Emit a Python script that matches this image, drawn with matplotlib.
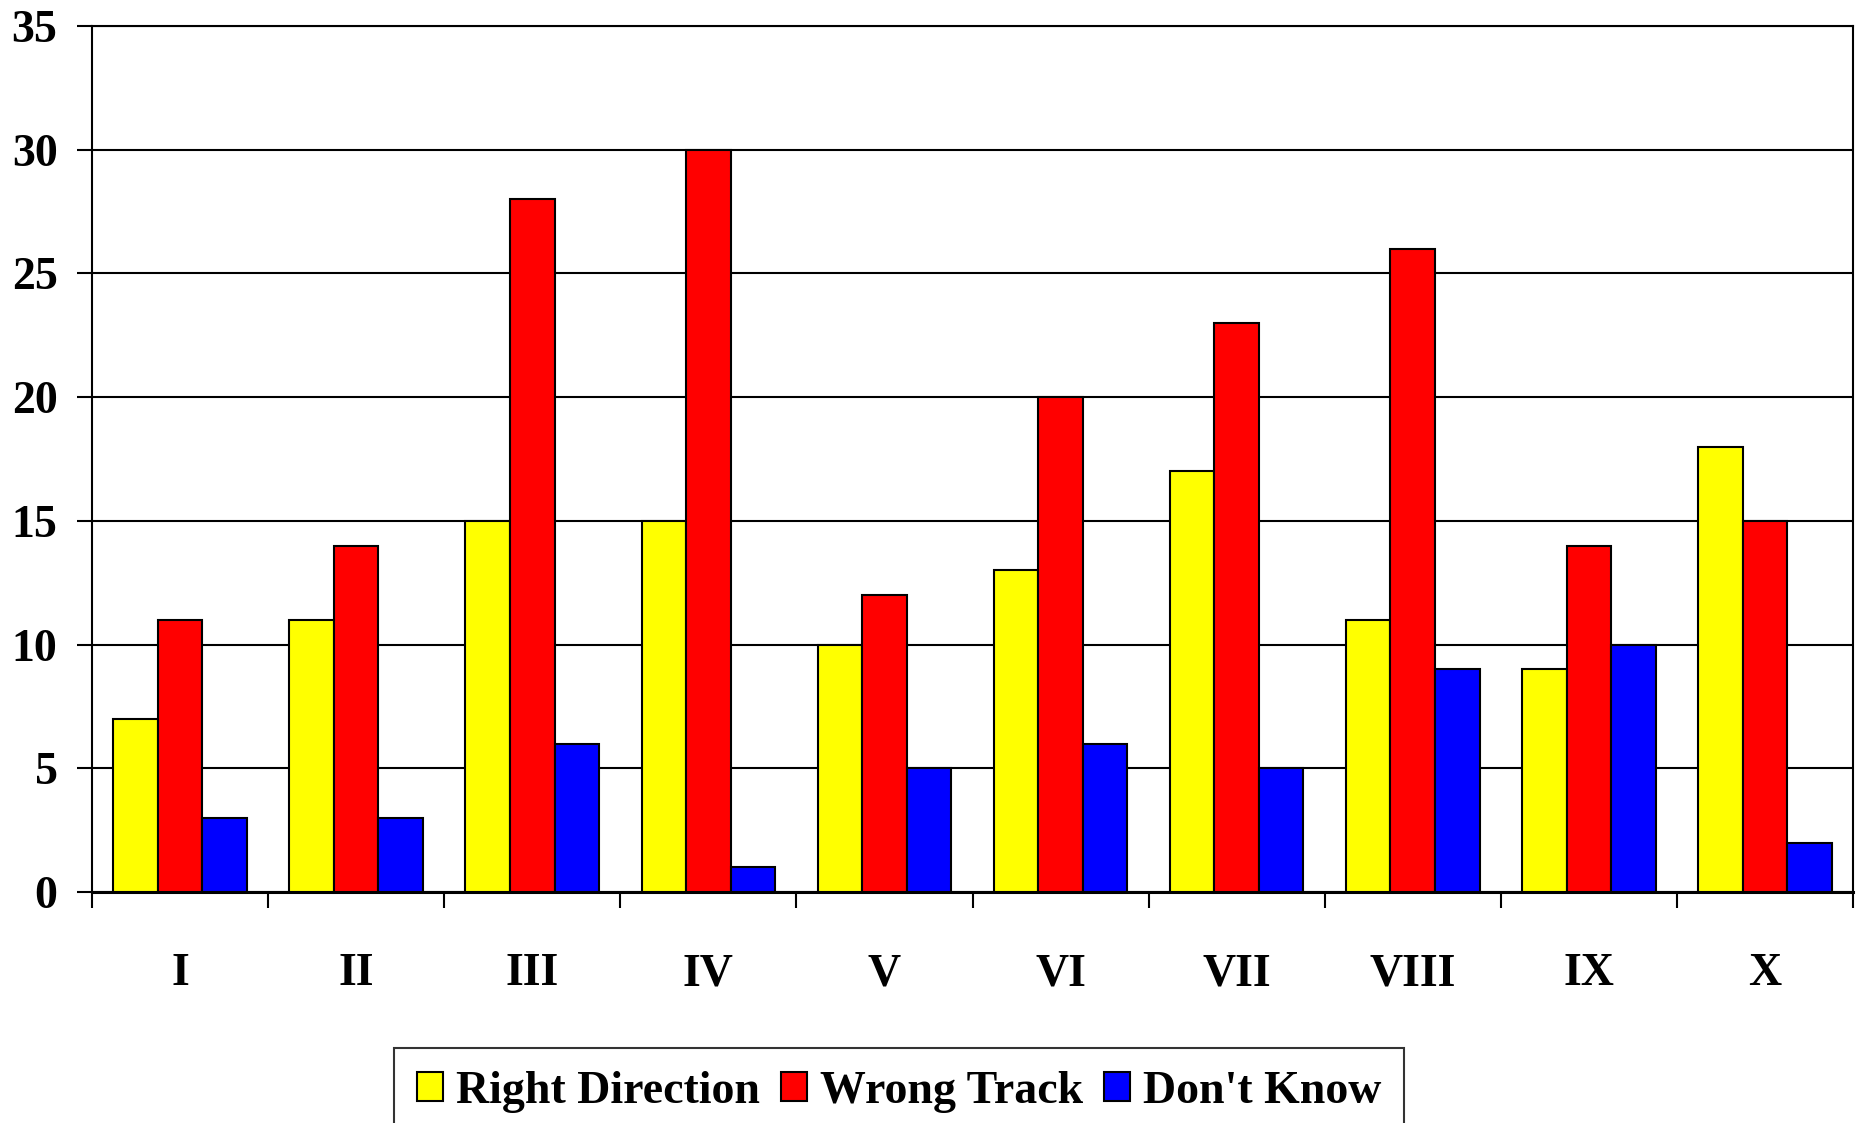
import matplotlib
matplotlib.use("Agg")
import matplotlib.pyplot as plt
import numpy as np

categories = ["I", "II", "III", "IV", "V", "VI", "VII", "VIII", "IX", "X"]
right_direction = [7, 11, 15, 15, 10, 13, 17, 11, 9, 18]
wrong_track = [11, 14, 28, 30, 12, 20, 23, 26, 14, 15]
dont_know = [3, 3, 6, 1, 5, 6, 5, 9, 10, 2]
series_names = ["Right Direction", "Wrong Track", "Don't Know"]
series_colors = ["#FFFF00", "#FF0000", "#0000FF"]
y_ticks = [0, 5, 10, 15, 20, 25, 30, 35]

plt.rcParams['font.family'] = ['Liberation Serif', 'DejaVu Serif']
plt.rcParams['font.weight'] = 'bold'

fig = plt.figure(figsize=(18.6, 11.23), dpi=100)
ax = fig.add_axes([92/1860, 1-892/1123, (1853-92)/1860, (892-26)/1123])

n = len(categories)
centers = np.arange(n) + 0.5
w = 0.253
data = [right_direction, wrong_track, dont_know]
for i, (vals, name, col) in enumerate(zip(data, series_names, series_colors)):
    ax.bar(centers + (i - 1) * w, vals, width=w, color=col, edgecolor='black',
           linewidth=1.5, label=name, zorder=3)

ax.set_xlim(0, n)
ax.set_ylim(0, 35)
ax.set_yticks(y_ticks)
ax.set_yticklabels([str(t) for t in y_ticks], fontsize=33, fontweight='bold')
ax.yaxis.grid(True, color='black', linewidth=1.5, zorder=0)
ax.set_axisbelow(True)

ax.set_xticks(centers)
ax.set_xticklabels(categories, fontsize=33, fontweight='bold')
ax.set_xticks(np.arange(n + 1), minor=True)
ax.tick_params(axis='x', which='major', length=0, pad=44)
ax.tick_params(axis='x', which='minor', length=11.5, width=1.5, direction='out')
ax.tick_params(axis='y', which='major', length=10.8, width=1.5, direction='out', pad=14)

for s in ['left', 'right', 'top']:
    ax.spines[s].set_linewidth(1.5)
    ax.spines[s].set_color('black')
ax.spines['bottom'].set_linewidth(2.2)

leg = fig.legend(loc='upper center', bbox_to_anchor=(899/1860, 1-1048/1123),
                 ncol=3, frameon=True, fancybox=False, borderaxespad=0,
                 edgecolor='black', handlelength=0.58, handleheight=0.6,
                 handletextpad=0.28, columnspacing=0.45, borderpad=0.5,
                 prop={'weight': 'bold', 'size': 33})
leg.get_frame().set_linewidth(1.5)

fig.savefig("out.png", dpi=100)
